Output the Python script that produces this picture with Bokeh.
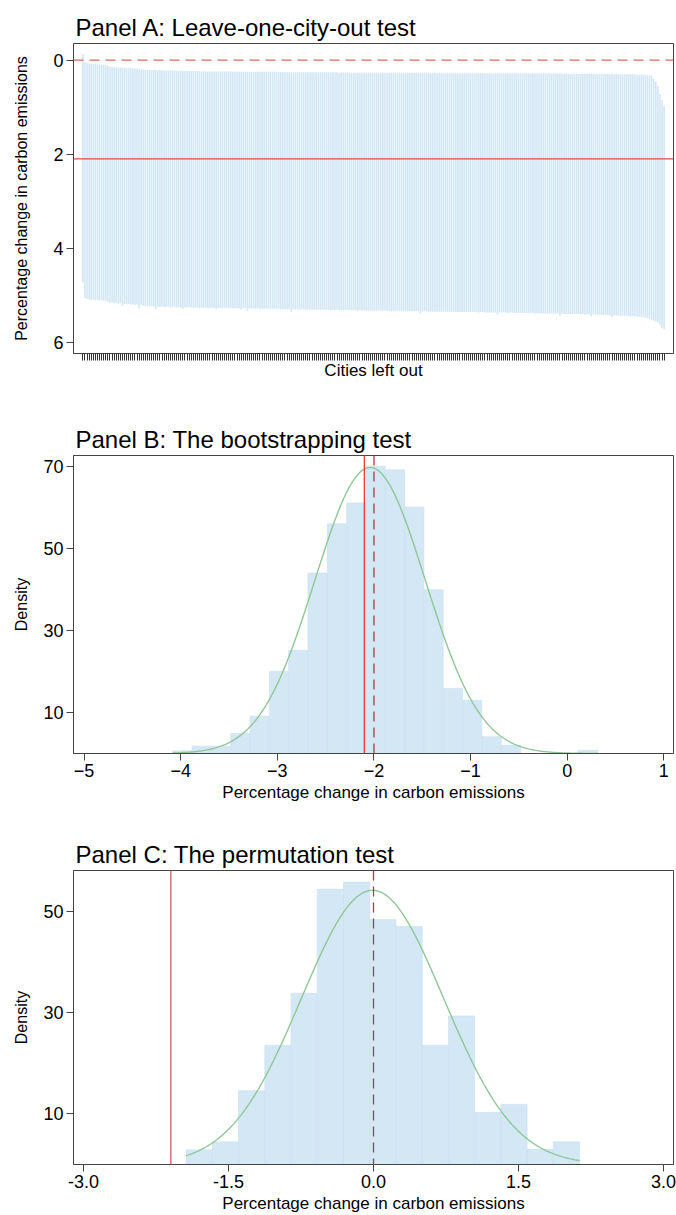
import numpy as np
from bokeh.plotting import figure
from bokeh.models import Range1d, FixedTicker, Span, NumeralTickFormatter
from bokeh.layouts import column
from bokeh.embed import file_html
from bokeh.resources import INLINE

FONT = "Liberation Sans"

# ---------------- Panel A: leave-one-city-out ----------------
city_top = [
    -0.13, 0.05, 0.06, 0.07, 0.07, 0.08, 0.08, 0.09, 0.09, 0.10, 0.10, 0.11, 0.12, 0.14, 0.14, 0.15, 0.15, 0.15, 0.16, 0.16,
    0.16, 0.17, 0.17, 0.17, 0.18, 0.18, 0.18, 0.19, 0.19, 0.20, 0.20, 0.21, 0.21, 0.21, 0.21, 0.21, 0.22, 0.21, 0.22, 0.22,
    0.22, 0.22, 0.22, 0.22, 0.22, 0.22, 0.23, 0.22, 0.23, 0.23, 0.23, 0.23, 0.23, 0.23, 0.23, 0.23, 0.23, 0.24, 0.23, 0.24,
    0.24, 0.24, 0.24, 0.24, 0.24, 0.24, 0.24, 0.24, 0.24, 0.24, 0.24, 0.24, 0.25, 0.24, 0.25, 0.25, 0.25, 0.25, 0.25, 0.25,
    0.25, 0.25, 0.25, 0.25, 0.25, 0.25, 0.25, 0.25, 0.25, 0.25, 0.25, 0.25, 0.25, 0.25, 0.26, 0.25, 0.26, 0.26, 0.26, 0.26,
    0.26, 0.26, 0.26, 0.26, 0.26, 0.26, 0.26, 0.26, 0.26, 0.26, 0.26, 0.26, 0.26, 0.26, 0.26, 0.26, 0.26, 0.26, 0.26, 0.26,
    0.26, 0.26, 0.26, 0.27, 0.26, 0.26, 0.27, 0.26, 0.27, 0.27, 0.27, 0.27, 0.27, 0.27, 0.27, 0.27, 0.27, 0.27, 0.27, 0.27,
    0.27, 0.27, 0.27, 0.27, 0.27, 0.27, 0.27, 0.27, 0.27, 0.27, 0.27, 0.27, 0.27, 0.27, 0.27, 0.27, 0.27, 0.27, 0.27, 0.27,
    0.27, 0.27, 0.27, 0.27, 0.27, 0.27, 0.27, 0.28, 0.27, 0.27, 0.28, 0.27, 0.28, 0.28, 0.28, 0.28, 0.28, 0.28, 0.28, 0.28,
    0.28, 0.28, 0.28, 0.28, 0.28, 0.28, 0.28, 0.28, 0.28, 0.28, 0.28, 0.28, 0.28, 0.28, 0.28, 0.28, 0.28, 0.28, 0.28, 0.28,
    0.28, 0.28, 0.28, 0.28, 0.28, 0.28, 0.28, 0.28, 0.28, 0.28, 0.28, 0.28, 0.28, 0.28, 0.28, 0.28, 0.28, 0.28, 0.28, 0.28,
    0.28, 0.28, 0.28, 0.28, 0.28, 0.29, 0.28, 0.28, 0.29, 0.28, 0.29, 0.29, 0.29, 0.29, 0.29, 0.29, 0.29, 0.29, 0.29, 0.29,
    0.29, 0.29, 0.29, 0.29, 0.29, 0.29, 0.29, 0.29, 0.29, 0.29, 0.29, 0.29, 0.29, 0.29, 0.29, 0.30, 0.29, 0.30, 0.30, 0.30,
    0.30, 0.30, 0.30, 0.30, 0.30, 0.30, 0.31, 0.31, 0.31, 0.31, 0.31, 0.32, 0.32, 0.33, 0.40, 0.46, 0.55, 0.72, 0.85, 0.97,
]
city_bottom = [
    4.73, 5.06, 5.08, 5.09, 5.10, 5.09, 5.11, 5.10, 5.12, 5.11, 5.12, 5.13, 5.14, 5.16, 5.15, 5.17, 5.16, 5.18, 5.17, 5.22,
    5.18, 5.19, 5.18, 5.20, 5.19, 5.21, 5.20, 5.27, 5.21, 5.22, 5.23, 5.22, 5.24, 5.23, 5.24, 5.30, 5.24, 5.25, 5.24, 5.25,
    5.25, 5.24, 5.26, 5.25, 5.25, 5.26, 5.25, 5.26, 5.29, 5.26, 5.26, 5.25, 5.26, 5.27, 5.26, 5.26, 5.27, 5.26, 5.27, 5.26,
    5.27, 5.27, 5.26, 5.27, 5.30, 5.27, 5.27, 5.28, 5.27, 5.27, 5.28, 5.27, 5.28, 5.28, 5.27, 5.28, 5.31, 5.28, 5.28, 5.33,
    5.28, 5.29, 5.28, 5.29, 5.28, 5.29, 5.29, 5.29, 5.29, 5.29, 5.30, 5.29, 5.29, 5.30, 5.29, 5.30, 5.30, 5.30, 5.30, 5.30,
    5.35, 5.30, 5.30, 5.30, 5.31, 5.30, 5.30, 5.31, 5.30, 5.31, 5.31, 5.31, 5.31, 5.31, 5.31, 5.31, 5.31, 5.31, 5.31, 5.32,
    5.31, 5.32, 5.31, 5.32, 5.32, 5.32, 5.32, 5.32, 5.32, 5.32, 5.32, 5.32, 5.33, 5.32, 5.33, 5.32, 5.33, 5.33, 5.33, 5.33,
    5.33, 5.33, 5.33, 5.33, 5.33, 5.33, 5.33, 5.33, 5.34, 5.33, 5.34, 5.33, 5.34, 5.34, 5.34, 5.34, 5.34, 5.34, 5.34, 5.34,
    5.34, 5.34, 5.39, 5.35, 5.34, 5.35, 5.35, 5.35, 5.35, 5.35, 5.35, 5.35, 5.35, 5.35, 5.35, 5.35, 5.35, 5.36, 5.35, 5.36,
    5.36, 5.36, 5.36, 5.36, 5.36, 5.36, 5.36, 5.36, 5.36, 5.36, 5.37, 5.36, 5.36, 5.37, 5.37, 5.37, 5.37, 5.37, 5.37, 5.41,
    5.37, 5.37, 5.37, 5.37, 5.38, 5.37, 5.37, 5.38, 5.38, 5.38, 5.38, 5.38, 5.38, 5.38, 5.38, 5.38, 5.38, 5.39, 5.38, 5.39,
    5.39, 5.39, 5.39, 5.39, 5.39, 5.39, 5.39, 5.39, 5.39, 5.44, 5.39, 5.40, 5.40, 5.40, 5.40, 5.40, 5.40, 5.40, 5.40, 5.41,
    5.40, 5.41, 5.41, 5.41, 5.45, 5.41, 5.41, 5.42, 5.41, 5.42, 5.42, 5.42, 5.42, 5.43, 5.47, 5.43, 5.43, 5.43, 5.44, 5.43,
    5.44, 5.44, 5.44, 5.45, 5.45, 5.45, 5.46, 5.46, 5.46, 5.47, 5.48, 5.49, 5.50, 5.52, 5.54, 5.56, 5.58, 5.63, 5.70, 5.72,
]
city_ids = list(range(1, len(city_top) + 1))
a_estimate = 2.1
a_zero = 0.0
a_yticks = [0, 2, 4, 6]

# ---------------- Panel B: bootstrapping ----------------
boot_bin_start = -4.083
boot_bin_width = 0.2
boot_density = [0.66, 1.8, 1.8, 4.9, 9.1, 20.1, 25.2, 44.1, 56.1, 61.2, 70.2,
                69.3, 60.2, 40.0, 15.9, 13.0, 4.1, 2.0, 0.0, 0.0, 0.0, 0.8]
boot_mean = -2.04
boot_sd = 0.571
boot_estimate = -2.10
boot_ref = -2.0
b_xticks = [-5, -4, -3, -2, -1, 0, 1]
b_yticks = [10, 30, 50, 70]

# ---------------- Panel C: permutation ----------------
perm_bin_start = -1.938
perm_bin_width = 0.2713
perm_density = [2.9, 4.5, 14.6, 23.6, 33.9, 54.5, 55.9, 48.5, 47.1, 23.6,
                29.4, 10.3, 11.9, 3.0, 4.5]
perm_mean = -0.01
perm_sd = 0.735
perm_estimate = -2.096
perm_ref = 0.0
c_xticks = [-3.0, -1.5, 0.0, 1.5, 3.0]
c_yticks = [10, 30, 50]

BAR = "#d4e7f5"
BAR_LINE = "#c9dff0"
CURVE = "#8fc795"
FRAME = "#444444"


def style(p, title, xlabel, ylabel, ylabel_standoff):
    p.title.text = title
    p.title.text_font = FONT
    p.title.text_font_size = "24px"
    p.title.text_font_style = "normal"
    p.title.text_color = "#000000"
    p.title.align = "left"
    p.title.offset = 2
    p.title.standoff = 6
    p.outline_line_color = FRAME
    p.outline_line_width = 1
    p.xgrid.visible = False
    p.ygrid.visible = False
    p.background_fill_color = "white"
    p.border_fill_color = "white"
    for ax in (p.xaxis[0], p.yaxis[0]):
        ax.axis_line_color = FRAME
        ax.major_tick_line_color = FRAME
        ax.major_tick_out = 7
        ax.major_tick_in = 0
        ax.minor_tick_line_color = None
        ax.major_label_text_font = FONT
        ax.major_label_text_font_size = "18px"
        ax.major_label_text_color = "#000000"
        ax.axis_label_text_font = FONT
        ax.axis_label_text_font_size = "17px"
        ax.axis_label_text_font_style = "normal"
        ax.axis_label_text_color = "#000000"
        ax.major_label_standoff = 3
        ax.axis_label_standoff = 3
    p.xaxis[0].axis_label = xlabel
    p.yaxis[0].axis_label = ylabel
    p.yaxis[0].axis_label_standoff = ylabel_standoff
    p.yaxis[0].axis_label_text_font_size = "16px"
    p.yaxis[0].major_label_orientation = "horizontal"


def normal_curve(start, width, n, mean, sd):
    xs = np.linspace(start, start + width * n, 400)
    ys = 100.0 * np.exp(-0.5 * ((xs - mean) / sd) ** 2) / (sd * np.sqrt(2 * np.pi))
    return xs, ys


# ---- Panel A ----
pA = figure(width=676, height=396, output_backend="svg", toolbar_location=None,
            x_range=Range1d(-3.5, len(city_ids) + 4.5), y_range=Range1d(6.24, -0.353),
            min_border_left=73, min_border_right=3, min_border_top=43, min_border_bottom=43)
style(pA, "Panel A: Leave-one-city-out test", "Cities left out",
      "Percentage change in carbon emissions", 20)
pA.vbar(x=city_ids, bottom=city_bottom, top=city_top, width=0.8,
        fill_color=BAR, line_color=None)
pA.add_layout(Span(location=a_zero, dimension="width", line_color="#d9675e",
                   line_width=1.3, line_dash="10 6"))
pA.add_layout(Span(location=a_estimate, dimension="width", line_color="#e04848",
                   line_width=1.4))
# one tick per city, drawn as unlabeled minor ticks
pA.xaxis[0].ticker = FixedTicker(ticks=[], minor_ticks=city_ids)
pA.xaxis[0].minor_tick_line_color = "#333333"
pA.xaxis[0].minor_tick_out = 7
pA.xaxis[0].minor_tick_in = 0
pA.xaxis[0].major_label_standoff = 0
pA.xaxis[0].axis_label_standoff = 0
pA.yaxis[0].ticker = FixedTicker(ticks=a_yticks)

# ---- Panel B ----
nb = len(boot_density)
b_edges = boot_bin_start + boot_bin_width * np.arange(nb + 1)
pB = figure(width=676, height=409, output_backend="svg", toolbar_location=None,
            x_range=Range1d(-5.11, 1.10), y_range=Range1d(0, 72.8),
            min_border_left=73, min_border_right=3, min_border_top=59, min_border_bottom=52)
style(pB, "Panel B: The bootstrapping test", "Percentage change in carbon emissions",
      "Density", 10)
pB.quad(left=b_edges[:-1], right=b_edges[1:], bottom=0, top=boot_density,
        fill_color=BAR, line_color=BAR_LINE, line_width=0.6)
bx, by = normal_curve(boot_bin_start, boot_bin_width, nb, boot_mean, boot_sd)
pB.line(bx, by, line_color=CURVE, line_width=1.4)
pB.add_layout(Span(location=boot_estimate, dimension="height", line_color="#e03c3c",
                   line_width=1.3))
pB.add_layout(Span(location=boot_ref, dimension="height", line_color="#b8344a",
                   line_width=1.3, line_dash="10 6"))
pB.xaxis[0].ticker = FixedTicker(ticks=b_xticks)
pB.yaxis[0].ticker = FixedTicker(ticks=b_yticks)

# ---- Panel C ----
nc = len(perm_density)
c_edges = perm_bin_start + perm_bin_width * np.arange(nc + 1)
pC = figure(width=676, height=410, output_backend="svg", toolbar_location=None,
            x_range=Range1d(-3.103, 3.103), y_range=Range1d(0, 58.2),
            min_border_left=73, min_border_right=3, min_border_top=65, min_border_bottom=45)
style(pC, "Panel C: The permutation test", "Percentage change in carbon emissions",
      "Density", 10)
pC.quad(left=c_edges[:-1], right=c_edges[1:], bottom=0, top=perm_density,
        fill_color=BAR, line_color=BAR_LINE, line_width=0.6)
cx, cy = normal_curve(perm_bin_start, perm_bin_width, nc, perm_mean, perm_sd)
pC.line(cx, cy, line_color=CURVE, line_width=1.4)
pC.add_layout(Span(location=perm_estimate, dimension="height", line_color="#d9666c",
                   line_width=1.4))
pC.add_layout(Span(location=perm_ref, dimension="height", line_color="#c0304a",
                   line_width=1.3, line_dash="10 6"))
pC.xaxis[0].ticker = FixedTicker(ticks=c_xticks)
pC.xaxis[0].formatter = NumeralTickFormatter(format="0.0")
pC.yaxis[0].ticker = FixedTicker(ticks=c_yticks)

layout = column(pA, pB, pC, spacing=0)
open("out.html", "w").write(file_html(layout, INLINE))
